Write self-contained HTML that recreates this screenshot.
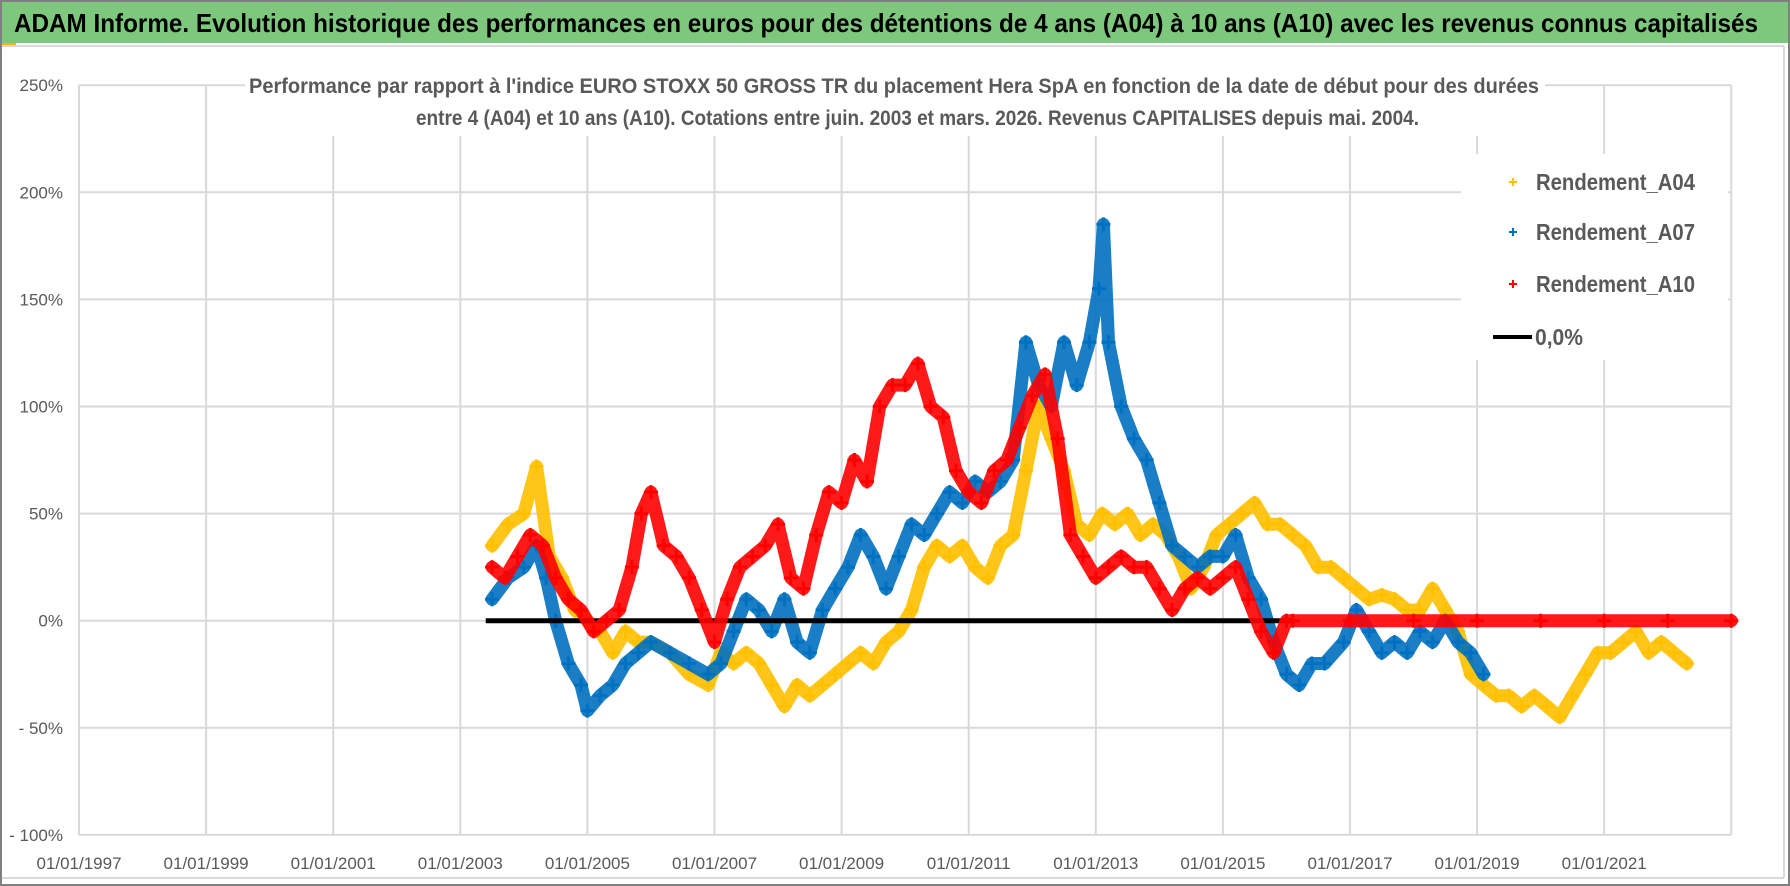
<!DOCTYPE html>
<html><head><meta charset="utf-8"><style>
html,body{margin:0;padding:0;background:#fff;}
svg{display:block;font-family:"Liberation Sans",sans-serif;}
</style></head><body>
<svg id="chart" width="1790" height="886" viewBox="0 0 1790 886" xmlns="http://www.w3.org/2000/svg">
<rect x="0" y="0" width="1790" height="886" fill="#fff"/>
<rect x="0" y="0" width="1790" height="43" fill="#7ec87e"/>
<text x="14" y="32" font-size="26" font-weight="bold" fill="#000" textLength="1744" lengthAdjust="spacingAndGlyphs">ADAM Informe. Evolution historique des performances en euros pour des détentions de 4 ans (A04) à 10 ans (A10) avec les revenus connus capitalisés</text>
<rect x="0" y="43" width="16" height="4" fill="#f5b800"/>
<line x1="0" y1="46" x2="1784" y2="46" stroke="#d9d9d9" stroke-width="2"/>
<line x1="1784" y1="46" x2="1784" y2="878" stroke="#d9d9d9" stroke-width="2"/>
<line x1="0" y1="878" x2="1784" y2="878" stroke="#d9d9d9" stroke-width="2"/>
<rect x="1" y="1" width="1788" height="884" fill="none" stroke="#808080" stroke-width="2"/>
<g id="grid"></g>
<g id="marks"></g>
<rect x="245" y="60" width="1300" height="76" fill="#fff"/>
<text x="249" y="93" font-size="21" font-weight="bold" fill="#595959" textLength="1290" lengthAdjust="spacingAndGlyphs">Performance par rapport à l'indice EURO STOXX 50 GROSS TR  du placement Hera SpA en fonction de la date de début pour des durées</text>
<text x="416" y="125" font-size="21" font-weight="bold" fill="#595959" textLength="1003" lengthAdjust="spacingAndGlyphs">entre 4 (A04) et 10 ans (A10). Cotations entre juin. 2003 et mars. 2026. Revenus CAPITALISES depuis mai. 2004.</text>
<g id="axes"></g>
<g>
<rect x="1461" y="154" width="267" height="206" fill="#fff"/>
<g><path d="M1509 182h8M1513 178v8" stroke="#ffc000" stroke-width="2"/><text x="1536" y="190" font-size="23" font-weight="bold" fill="#595959" textLength="159" lengthAdjust="spacingAndGlyphs">Rendement_A04</text></g>
<g><path d="M1509 232h8M1513 228v8" stroke="#0070c0" stroke-width="2"/><text x="1536" y="240" font-size="23" font-weight="bold" fill="#595959" textLength="159" lengthAdjust="spacingAndGlyphs">Rendement_A07</text></g>
<g><path d="M1509 284h8M1513 280v8" stroke="#ff0000" stroke-width="2"/><text x="1536" y="292" font-size="23" font-weight="bold" fill="#595959" textLength="159" lengthAdjust="spacingAndGlyphs">Rendement_A10</text></g>
<g><line x1="1493" y1="337" x2="1532" y2="337" stroke="#000" stroke-width="4"/><text x="1535" y="345" font-size="23" font-weight="bold" fill="#595959" textLength="48" lengthAdjust="spacingAndGlyphs">0,0%</text></g>
</g>
</svg>
<script>
const yTicks=[250,200,150,100,50,0,-50,-100];
const yTickLabels=["250%","200%","150%","100%","50%","0%","- 50%","- 100%"];
const xTickYears=[1997,1999,2001,2003,2005,2007,2009,2011,2013,2015,2017,2019,2021];
const xTickLabels=["01/01/1997","01/01/1999","01/01/2001","01/01/2003","01/01/2005","01/01/2007","01/01/2009","01/01/2011","01/01/2013","01/01/2015","01/01/2017","01/01/2019","01/01/2021"];
const datesA04=[2003.5,2003.75,2004.0,2004.2,2004.4,2004.6,2004.8,2005.0,2005.2,2005.4,2005.6,2005.8,2006.0,2006.3,2006.6,2006.9,2007.1,2007.3,2007.5,2007.7,2007.9,2008.1,2008.3,2008.5,2008.7,2008.9,2009.1,2009.3,2009.5,2009.7,2009.9,2010.1,2010.3,2010.5,2010.7,2010.9,2011.1,2011.3,2011.5,2011.7,2011.9,2012.1,2012.3,2012.5,2012.7,2012.9,2013.1,2013.3,2013.5,2013.7,2013.9,2014.1,2014.3,2014.5,2014.7,2014.9,2015.1,2015.3,2015.5,2015.7,2015.9,2016.1,2016.3,2016.5,2016.7,2016.9,2017.1,2017.3,2017.5,2017.7,2017.9,2018.1,2018.3,2018.5,2018.7,2018.9,2019.1,2019.3,2019.5,2019.7,2019.9,2020.1,2020.3,2020.5,2020.7,2020.9,2021.1,2021.3,2021.5,2021.7,2021.9,2022.1,2022.3];
const valuesA04=[35,45,50,72,30,20,5,0,-5,-15,-5,-10,-10,-15,-25,-30,-15,-20,-15,-20,-30,-40,-30,-35,-30,-25,-20,-15,-20,-10,-5,5,25,35,30,35,25,20,35,40,70,100,85,70,45,40,50,45,50,40,45,40,30,15,25,40,45,50,55,45,45,40,35,25,25,20,15,10,12,10,5,5,15,5,-5,-25,-30,-35,-35,-40,-35,-40,-45,-35,-25,-15,-15,-10,-5,-15,-10,-15,-20];
const datesA07=[2003.5,2003.75,2004.0,2004.2,2004.35,2004.5,2004.7,2004.9,2005.0,2005.2,2005.4,2005.6,2005.8,2006.0,2006.3,2006.6,2006.9,2007.1,2007.3,2007.5,2007.7,2007.9,2008.1,2008.3,2008.5,2008.7,2008.9,2009.1,2009.3,2009.5,2009.7,2009.9,2010.1,2010.3,2010.5,2010.7,2010.9,2011.1,2011.3,2011.5,2011.7,2011.9,2012.1,2012.3,2012.5,2012.7,2012.9,2013.05,2013.12,2013.2,2013.4,2013.6,2013.8,2014.0,2014.2,2014.4,2014.6,2014.8,2015.0,2015.2,2015.4,2015.6,2015.8,2016.0,2016.2,2016.4,2016.6,2016.9,2017.1,2017.3,2017.5,2017.7,2017.9,2018.1,2018.3,2018.5,2018.7,2018.9,2019.1];
const valuesA07=[10,20,25,35,20,0,-20,-30,-42,-35,-30,-20,-15,-10,-15,-20,-25,-20,-5,10,5,-5,10,-10,-15,5,15,25,40,30,15,30,45,40,50,60,55,65,60,65,75,130,110,100,130,110,130,155,185,130,100,85,75,55,35,30,25,30,30,40,20,10,-10,-25,-30,-20,-20,-10,5,-5,-15,-10,-15,-5,-10,0,-10,-15,-25];
const datesA10=[2003.5,2003.7,2003.9,2004.1,2004.3,2004.5,2004.7,2004.9,2005.1,2005.3,2005.5,2005.7,2005.85,2006.0,2006.2,2006.4,2006.6,2006.8,2007.0,2007.2,2007.4,2007.6,2007.8,2008.0,2008.2,2008.4,2008.6,2008.8,2009.0,2009.2,2009.4,2009.6,2009.8,2010.0,2010.2,2010.4,2010.6,2010.8,2011.0,2011.2,2011.4,2011.6,2011.8,2012.0,2012.2,2012.4,2012.6,2012.8,2013.0,2013.2,2013.4,2013.6,2013.8,2014.0,2014.2,2014.4,2014.6,2014.8,2015.0,2015.2,2015.4,2015.6,2015.8,2016.0,2016.1,2017,2018,2019,2020,2021,2022,2023];
const valuesA10=[25,20,30,40,35,20,10,5,-5,0,5,25,50,60,35,30,20,5,-10,10,25,30,35,45,20,15,40,60,55,75,65,100,110,110,120,100,95,70,60,55,70,75,90,105,115,85,40,30,20,25,30,25,25,15,5,15,20,15,20,25,10,-5,-15,0,0,0,0,0,0,0,0,0];
const zeroLineDates=[2003.4,2016.1];
const zeroLineValues=[0,0];

const NS="http://www.w3.org/2000/svg";
const X0=79,XW=127.1,Y0=620.7,YK=107.1/50;
function xs(yr){return X0+(yr-1997)/2*XW;}
function ys(v){return Y0-v*YK;}
function mk(tag,attrs,parent){const e=document.createElementNS(NS,tag);for(const k in attrs)e.setAttribute(k,attrs[k]);parent.appendChild(e);return e;}
const grid=document.getElementById('grid'),axes=document.getElementById('axes'),marks=document.getElementById('marks');
yTicks.forEach((v,i)=>{
  const l=mk('line',{x1:X0,x2:xs(2023),y1:ys(v),y2:ys(v),stroke:'#d9d9d9','stroke-width':2},grid);
  
  
  const t=mk('text',{x:63,y:ys(v)+6,'text-anchor':'end','font-size':17,fill:'#595959'},axes);
  t.textContent=yTickLabels[i];
  
  
});
xTickYears.concat([2023]).forEach(yr=>{
  const l=mk('line',{x1:xs(yr),x2:xs(yr),y1:ys(250),y2:ys(-100),stroke:'#d9d9d9','stroke-width':2},grid);
  
  
});
xTickYears.forEach((yr,i)=>{
  const t=mk('text',{x:xs(yr),y:869,'text-anchor':'middle','font-size':17,fill:'#595959'},axes);
  t.textContent=xTickLabels[i];
  
  
});
function series(dates,vals,color,name){
  const g=mk('g',{},marks);
  
  
  const pts=dates.map((d,i)=>xs(d).toFixed(1)+','+ys(vals[i]).toFixed(1)).join(' ');
  const pl=mk('polyline',{points:pts,fill:'none',stroke:color,'stroke-width':13,'stroke-linejoin':'round','stroke-linecap':'round','stroke-opacity':0.9},g);
  
  
  dates.forEach((d,i)=>{
    const x=xs(d),y=ys(vals[i]);
    const p=mk('path',{d:`M${x-7} ${y}h14M${x} ${y-7}v14`,stroke:color,'stroke-width':3},g);
    
    
  });
}
series(datesA04,valuesA04,'#ffc000','series-a04');
series(datesA07,valuesA07,'#0070c0','series-a07');
const z=mk('line',{x1:xs(zeroLineDates[0]),x2:xs(zeroLineDates[1]),y1:ys(zeroLineValues[0]),y2:ys(zeroLineValues[1]),stroke:'#000','stroke-width':5},marks);


series(datesA10,valuesA10,'#ff0000','series-a10');
</script>
</body></html>
